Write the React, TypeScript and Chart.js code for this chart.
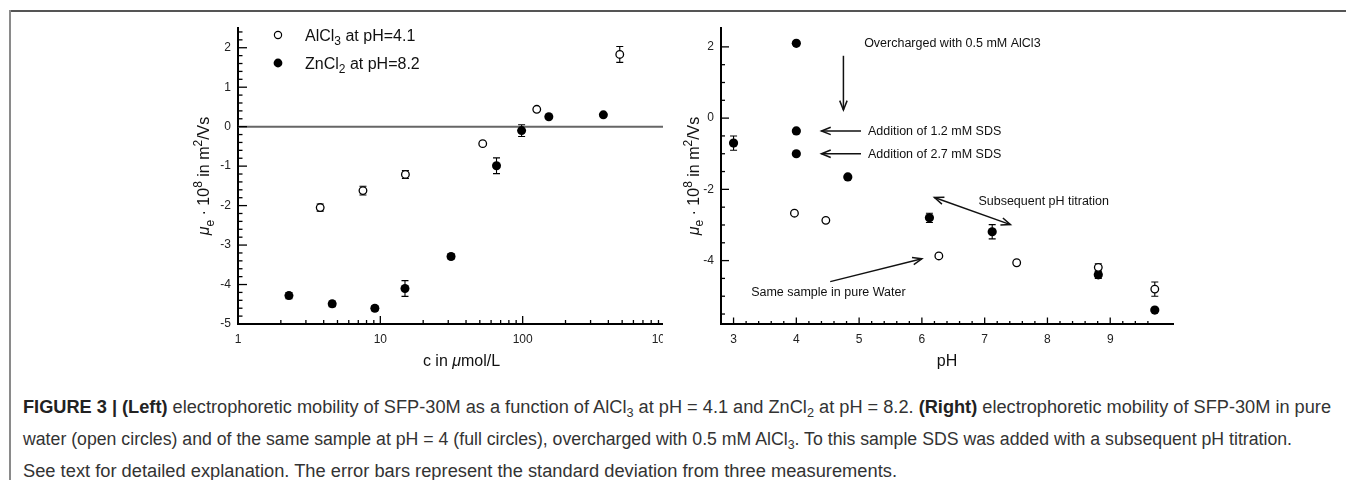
import React, { useEffect, useLayoutEffect, useRef } from "react";
import { Chart, registerables } from "chart.js";

Chart.register(...registerables);

const FONT = "'Liberation Sans', Arial, Helvetica, sans-serif";

// ---------- Left panel data: mobility vs salt concentration ----------
const alcl3Conc = [3.78, 7.55, 15.0, 52.4, 125.6, 481];
const alcl3Mobility = [-2.05, -1.62, -1.21, -0.43, 0.44, 1.83];
const alcl3Error = [0.09, 0.11, 0.1, 0, 0, 0.2];

const zncl2Conc = [2.28, 4.59, 9.15, 14.9, 31.4, 65.5, 98.3, 152.7, 369];
const zncl2Mobility = [-4.28, -4.49, -4.6, -4.1, -3.29, -0.99, -0.1, 0.25, 0.3];
const zncl2Error = [0.08, 0.07, 0.06, 0.2, 0.06, 0.2, 0.15, 0, 0];

const leftXTicks = [1, 10, 100, 1000];
const leftXMinor = [2, 3, 4, 5, 6, 7, 8, 9, 20, 30, 40, 50, 60, 70, 80, 90, 200, 300, 400, 500, 600, 700, 800, 900];
const leftYTicks = [-5, -4, -3, -2, -1, 0, 1, 2];
const leftYMinor = [-4.8, -4.6, -4.4, -4.2, -3.8, -3.6, -3.4, -3.2, -2.8, -2.6, -2.4, -2.2, -1.8, -1.6, -1.4, -1.2, -0.8, -0.6, -0.4, -0.2, 0.2, 0.4, 0.6, 0.8, 1.2, 1.4, 1.6, 1.8, 2.2, 2.4];
const legendLabels = ["AlCl", "ZnCl"];
const legendSubs = ["3", "2"];
const legendTails = [" at pH=4.1", " at pH=8.2"];

// ---------- Right panel data: mobility vs pH ----------
const saltPH = [3.0, 4.0, 4.0, 4.0, 4.82, 6.12, 7.12, 8.81, 9.71];
const saltMobility = [-0.7, 2.1, -0.36, -1.0, -1.65, -2.8, -3.19, -4.4, -5.39];
const saltError = [0.2, 0, 0, 0, 0, 0.13, 0.2, 0.1, 0];

const waterPH = [3.97, 4.47, 6.27, 7.51, 8.81, 9.71];
const waterMobility = [-2.67, -2.87, -3.87, -4.06, -4.19, -4.8];
const waterError = [0, 0, 0, 0, 0.1, 0.2];

const rightXTicks = [3, 4, 5, 6, 7, 8, 9];
const rightXMinor = [3.2, 3.4, 3.6, 3.8, 4.2, 4.4, 4.6, 4.8, 5.2, 5.4, 5.6, 5.8, 6.2, 6.4, 6.6, 6.8, 7.2, 7.4, 7.6, 7.8, 8.2, 8.4, 8.6, 8.8, 9.2, 9.4, 9.6];
const rightYTicks = [-4, -2, 0, 2];
const rightYMinor = [-5.5, -5, -4.5, -3.5, -3, -2.5, -1.5, -1, -0.5, 0.5, 1, 1.5];

const noteTexts = [
  "Overcharged with 0.5 mM AlCl3",
  "Addition of 1.2 mM SDS",
  "Addition of 2.7 mM SDS",
  "Subsequent pH titration",
  "Same sample in pure Water",
];
const notePH = [5.08, 5.14, 5.14, 6.9, 3.28];
const noteMobility = [2.08, -0.39, -1.02, -2.33, -4.91];
const arrowFromPH = [4.75, 5.03, 5.03, 4.54];
const arrowFromMobility = [1.75, -0.36, -1.0, -4.59];
const arrowToPH = [4.75, 4.4, 4.4, 6.0];
const arrowToMobility = [0.23, -0.36, -1.0, -3.95];
const doubleArrowPH = [6.2, 7.41];
const doubleArrowMobility = [-2.23, -2.99];

// ---------- caption ----------
const captionTargets = [1308, 1269, 874];

type Seg = { t: string; s?: "sub" | "sup" | "it" };
const yTitle: Seg[] = [
  { t: "μ", s: "it" },
  { t: "e", s: "sub" },
  { t: " · 10" },
  { t: "8", s: "sup" },
  { t: " in m" },
  { t: "2", s: "sup" },
  { t: "/Vs" },
];

function segFont(s: Seg, size: number) {
  if (s.s === "sub" || s.s === "sup") return `${Math.round(size * 0.72)}px ${FONT}`;
  if (s.s === "it") return `italic ${size}px ${FONT}`;
  return `${size}px ${FONT}`;
}

function drawRich(ctx: CanvasRenderingContext2D, segs: Seg[], x: number, y: number, size: number, align: "left" | "center") {
  ctx.textBaseline = "alphabetic";
  ctx.textAlign = "left";
  const widths = segs.map((s) => {
    ctx.font = segFont(s, size);
    return ctx.measureText(s.t).width;
  });
  const total = widths.reduce((a, b) => a + b, 0);
  let cx = align === "center" ? x - total / 2 : x;
  const base = y + size * 0.35;
  segs.forEach((s, i) => {
    ctx.font = segFont(s, size);
    let dy = 0;
    if (s.s === "sub") dy = size * 0.3;
    if (s.s === "sup") dy = -size * 0.42;
    ctx.fillText(s.t, cx, base + dy);
    cx += widths[i];
  });
}

function arrowHead(ctx: CanvasRenderingContext2D, fx: number, fy: number, tx: number, ty: number, len: number, spread: number) {
  const a = Math.atan2(ty - fy, tx - fx);
  ctx.beginPath();
  ctx.moveTo(tx - len * Math.cos(a - spread), ty - len * Math.sin(a - spread));
  ctx.lineTo(tx, ty);
  ctx.lineTo(tx - len * Math.cos(a + spread), ty - len * Math.sin(a + spread));
  ctx.stroke();
}

interface DecorCfg {
  xMajor: number[];
  xMinor: number[];
  yMajor: number[];
  yMinor: number[];
  xMajorLen: number;
  xMinorLen: number;
  yMajorLen: number;
  yMinorLen: number;
  errors: { xs: number[]; ys: number[]; es: number[] }[];
  before?: (chart: any) => void;
  after?: (chart: any) => void;
}

function decorPlugin(cfg: DecorCfg) {
  return {
    id: "decor",
    beforeDatasetsDraw(chart: any) {
      const ctx: CanvasRenderingContext2D = chart.ctx;
      const xS = chart.scales.x;
      const yS = chart.scales.y;
      const ca = chart.chartArea;
      ctx.save();
      if (cfg.before) cfg.before(chart);
      ctx.strokeStyle = "#000";
      ctx.lineWidth = 1.3;
      const xt = (v: number, len: number) => {
        const px = xS.getPixelForValue(v);
        if (px < ca.left - 0.5 || px > ca.right + 0.5) return;
        ctx.beginPath();
        ctx.moveTo(px, ca.bottom);
        ctx.lineTo(px, ca.bottom - len);
        ctx.stroke();
      };
      const yt = (v: number, len: number) => {
        const py = yS.getPixelForValue(v);
        ctx.beginPath();
        ctx.moveTo(ca.left, py);
        ctx.lineTo(ca.left + len, py);
        ctx.stroke();
      };
      cfg.xMajor.forEach((v) => xt(v, cfg.xMajorLen));
      cfg.xMinor.forEach((v) => xt(v, cfg.xMinorLen));
      cfg.yMajor.forEach((v) => yt(v, cfg.yMajorLen));
      cfg.yMinor.forEach((v) => yt(v, cfg.yMinorLen));
      // error bars
      ctx.lineWidth = 1.1;
      cfg.errors.forEach((set) => {
        set.xs.forEach((xv, i) => {
          const e = set.es[i];
          if (!e) return;
          const px = xS.getPixelForValue(xv);
          const top = yS.getPixelForValue(set.ys[i] + e);
          const bot = yS.getPixelForValue(set.ys[i] - e);
          ctx.beginPath();
          ctx.moveTo(px, top);
          ctx.lineTo(px, bot);
          ctx.moveTo(px - 3.5, top);
          ctx.lineTo(px + 3.5, top);
          ctx.moveTo(px - 3.5, bot);
          ctx.lineTo(px + 3.5, bot);
          ctx.stroke();
        });
      });
      ctx.restore();
    },
    afterDatasetsDraw(chart: any) {
      if (!cfg.after) return;
      chart.ctx.save();
      cfg.after(chart);
      chart.ctx.restore();
    },
  };
}

function axisOptions(kind: "x" | "y", ticks: number[], size: number, extra: any) {
  return {
    grid: { display: false, drawTicks: false },
    border: { display: true, color: "#000", width: 2 },
    afterBuildTicks: (scale: any) => {
      scale.ticks = ticks.map((v) => ({ value: v }));
    },
    afterFit: (s: any) => {
      if (kind === "x") s.height = size;
      else s.width = size;
      s.paddingLeft = 0;
      s.paddingRight = 0;
      s.paddingTop = 0;
      s.paddingBottom = 0;
    },
    ticks: {
      autoSkip: false,
      maxRotation: 0,
      padding: kind === "x" ? 8 : 7,
      color: "#222",
      font: { family: FONT, size: 12 },
      callback: (v: any) => String(v),
    },
    ...extra,
  };
}

function LeftPanel() {
  const ref = useRef<HTMLCanvasElement>(null);
  useEffect(() => {
    if (!ref.current) return;
    const chart = new Chart(ref.current, {
      type: "scatter",
      data: {
        datasets: [
          {
            label: "AlCl3 at pH=4.1",
            data: alcl3Conc.map((x, i) => ({ x, y: alcl3Mobility[i] })),
            pointRadius: 3.8,
            pointBackgroundColor: "#fff",
            pointBorderColor: "#000",
            pointBorderWidth: 1.3,
          },
          {
            label: "ZnCl2 at pH=8.2",
            data: zncl2Conc.map((x, i) => ({ x, y: zncl2Mobility[i] })),
            pointRadius: 4.5,
            pointBackgroundColor: "#000",
            pointBorderColor: "#000",
            pointBorderWidth: 0,
          },
        ],
      },
      options: {
        animation: false,
        responsive: false,
        devicePixelRatio: 1,
        events: [],
        layout: { autoPadding: false, padding: { top: 28, right: 5, left: 0, bottom: 0 } },
        plugins: { legend: { display: false }, tooltip: { enabled: false } },
        scales: {
          x: axisOptions("x", leftXTicks, 56, { type: "logarithmic", min: 1, max: 1000 }),
          y: axisOptions("y", leftYTicks, 88, { type: "linear", min: -5, max: 2.5 }),
        },
      } as any,
      plugins: [
        decorPlugin({
          xMajor: leftXTicks,
          xMinor: leftXMinor,
          yMajor: leftYTicks,
          yMinor: leftYMinor,
          xMajorLen: 8,
          xMinorLen: 4,
          yMajorLen: 9,
          yMinorLen: 4.5,
          errors: [
            { xs: alcl3Conc, ys: alcl3Mobility, es: alcl3Error },
            { xs: zncl2Conc, ys: zncl2Mobility, es: zncl2Error },
          ],
          before: (chart: any) => {
            const ctx: CanvasRenderingContext2D = chart.ctx;
            const ca = chart.chartArea;
            const y0 = chart.scales.y.getPixelForValue(0);
            ctx.strokeStyle = "#666";
            ctx.lineWidth = 2;
            ctx.beginPath();
            ctx.moveTo(ca.left, y0);
            ctx.lineTo(ca.right, y0);
            ctx.stroke();
          },
          after: (chart: any) => {
            const ctx: CanvasRenderingContext2D = chart.ctx;
            const ca = chart.chartArea;
            // legend
            const mx = ca.left + 40;
            const rows = [ca.top + 7, ca.top + 35];
            rows.forEach((ry, i) => {
              ctx.beginPath();
              ctx.arc(mx, ry, i === 0 ? 3.6 : 4.4, 0, Math.PI * 2);
              if (i === 0) {
                ctx.fillStyle = "#fff";
                ctx.fill();
                ctx.strokeStyle = "#000";
                ctx.lineWidth = 1.2;
                ctx.stroke();
              } else {
                ctx.fillStyle = "#000";
                ctx.fill();
              }
              ctx.fillStyle = "#111";
              drawRich(
                ctx,
                [{ t: legendLabels[i] }, { t: legendSubs[i], s: "sub" }, { t: legendTails[i] }],
                mx + 27,
                ry,
                16,
                "left"
              );
            });
            // axis titles
            ctx.fillStyle = "#111";
            ctx.save();
            ctx.translate(ca.left - 34.5, (ca.top + ca.bottom) / 2);
            ctx.rotate(-Math.PI / 2);
            drawRich(ctx, yTitle, 0, 0, 16, "center");
            ctx.restore();
            drawRich(ctx, [{ t: "c in " }, { t: "μ", s: "it" }, { t: "mol/L" }], (ca.left + ca.right) / 2 + 10, ca.bottom + 36, 16, "center");
          },
        }),
      ],
    });
    return () => chart.destroy();
  }, []);
  return (
    <div style={{ position: "absolute", left: 150, top: 0, width: 513, height: 380, overflow: "hidden" }}>
      <canvas ref={ref} width={520} height={380} style={{ width: 520, height: 380, display: "block" }} />
    </div>
  );
}

function RightPanel() {
  const ref = useRef<HTMLCanvasElement>(null);
  useEffect(() => {
    if (!ref.current) return;
    const chart = new Chart(ref.current, {
      type: "scatter",
      data: {
        datasets: [
          {
            label: "pure water",
            data: waterPH.map((x, i) => ({ x, y: waterMobility[i] })),
            pointRadius: 3.8,
            pointBackgroundColor: "#fff",
            pointBorderColor: "#000",
            pointBorderWidth: 1.3,
          },
          {
            label: "pH 4 with AlCl3",
            data: saltPH.map((x, i) => ({ x, y: saltMobility[i] })),
            pointRadius: 4.6,
            pointBackgroundColor: "#000",
            pointBorderColor: "#000",
            pointBorderWidth: 0,
          },
        ],
      },
      options: {
        animation: false,
        responsive: false,
        devicePixelRatio: 1,
        events: [],
        layout: { autoPadding: false, padding: { top: 28, right: 173, left: 0, bottom: 0 } },
        plugins: { legend: { display: false }, tooltip: { enabled: false } },
        scales: {
          x: axisOptions("x", rightXTicks, 56, { type: "linear", min: 2.8, max: 10 }),
          y: axisOptions("y", rightYTicks, 51, { type: "linear", min: -5.78, max: 2.53 }),
        },
      } as any,
      plugins: [
        decorPlugin({
          xMajor: rightXTicks,
          xMinor: rightXMinor,
          yMajor: rightYTicks,
          yMinor: rightYMinor,
          xMajorLen: 6.5,
          xMinorLen: 3,
          yMajorLen: 8,
          yMinorLen: 4,
          errors: [
            { xs: waterPH, ys: waterMobility, es: waterError },
            { xs: saltPH, ys: saltMobility, es: saltError },
          ],
          after: (chart: any) => {
            const ctx: CanvasRenderingContext2D = chart.ctx;
            const ca = chart.chartArea;
            const xS = chart.scales.x;
            const yS = chart.scales.y;
            ctx.fillStyle = "#111";
            ctx.font = `12.5px ${FONT}`;
            ctx.textAlign = "left";
            ctx.textBaseline = "middle";
            noteTexts.forEach((t, i) => {
              ctx.fillText(t, xS.getPixelForValue(notePH[i]), yS.getPixelForValue(noteMobility[i]));
            });
            ctx.strokeStyle = "#111";
            ctx.lineWidth = 1.5;
            arrowFromPH.forEach((_, i) => {
              const fx = xS.getPixelForValue(arrowFromPH[i]);
              const fy = yS.getPixelForValue(arrowFromMobility[i]);
              const tx = xS.getPixelForValue(arrowToPH[i]);
              const ty = yS.getPixelForValue(arrowToMobility[i]);
              ctx.beginPath();
              ctx.moveTo(fx, fy);
              ctx.lineTo(tx, ty);
              ctx.stroke();
              arrowHead(ctx, fx, fy, tx, ty, 10, 0.38);
            });
            const ax = xS.getPixelForValue(doubleArrowPH[0]);
            const ay = yS.getPixelForValue(doubleArrowMobility[0]);
            const bx = xS.getPixelForValue(doubleArrowPH[1]);
            const by = yS.getPixelForValue(doubleArrowMobility[1]);
            ctx.beginPath();
            ctx.moveTo(ax, ay);
            ctx.lineTo(bx, by);
            ctx.stroke();
            arrowHead(ctx, bx, by, ax, ay, 10, 0.38);
            arrowHead(ctx, ax, ay, bx, by, 10, 0.38);
            // titles
            ctx.fillStyle = "#111";
            ctx.save();
            ctx.translate(ca.left - 28, (ca.top + ca.bottom) / 2);
            ctx.rotate(-Math.PI / 2);
            drawRich(ctx, yTitle, 0, 0, 16, "center");
            ctx.restore();
            drawRich(ctx, [{ t: "pH" }], (ca.left + ca.right) / 2, ca.bottom + 36, 16, "center");
          },
        }),
      ],
    });
    return () => chart.destroy();
  }, []);
  return (
    <div style={{ position: "absolute", left: 670, top: 0, width: 676, height: 380, overflow: "hidden" }}>
      <canvas ref={ref} width={676} height={380} style={{ width: 676, height: 380, display: "block" }} />
    </div>
  );
}

const subStyle: React.CSSProperties = { fontSize: "0.7em", verticalAlign: "baseline", position: "relative", top: "0.3em" };

function Caption() {
  const r0 = useRef<HTMLDivElement>(null);
  const r1 = useRef<HTMLDivElement>(null);
  const r2 = useRef<HTMLDivElement>(null);
  useLayoutEffect(() => {
    [r0, r1, r2].forEach((r, i) => {
      const el = r.current;
      if (!el) return;
      el.style.transform = "none";
      const w = el.getBoundingClientRect().width;
      if (w > 0) el.style.transform = `scaleX(${captionTargets[i] / w})`;
    });
  }, []);
  const line: React.CSSProperties = {
    position: "absolute",
    left: 23,
    whiteSpace: "nowrap",
    display: "inline-block",
    transformOrigin: "left center",
    fontFamily: FONT,
    fontSize: 18,
    lineHeight: "20px",
    color: "#333",
  };
  return (
    <>
      <div ref={r0} style={{ ...line, top: 397 }}>
        <b style={{ color: "#222" }}>FIGURE 3 | (Left)</b> electrophoretic mobility of SFP-30M as a function of AlCl<span style={subStyle}>3</span> at pH = 4.1 and ZnCl
        <span style={subStyle}>2</span> at pH = 8.2. <b style={{ color: "#222" }}>(Right)</b> electrophoretic mobility of SFP-30M in pure
      </div>
      <div ref={r1} style={{ ...line, top: 429 }}>
        water (open circles) and of the same sample at pH = 4 (full circles), overcharged with 0.5 mM AlCl<span style={subStyle}>3</span>. To this sample SDS
        was added with a subsequent pH titration.
      </div>
      <div ref={r2} style={{ ...line, top: 461 }}>
        See text for detailed explanation. The error bars represent the standard deviation from three measurements.
      </div>
    </>
  );
}

export default function App() {
  return (
    <div style={{ position: "absolute", left: 0, top: 0, width: 1346, height: 480, overflow: "hidden", background: "#fff" }}>
      <div style={{ position: "absolute", left: 9, top: 10, width: 1337, height: 0, borderTop: "2px solid #555" }} />
      <div style={{ position: "absolute", left: 9, top: 10, width: 0, height: 470, borderLeft: "2px solid #8a8a8a" }} />
      <LeftPanel />
      <RightPanel />
      <Caption />
    </div>
  );
}
